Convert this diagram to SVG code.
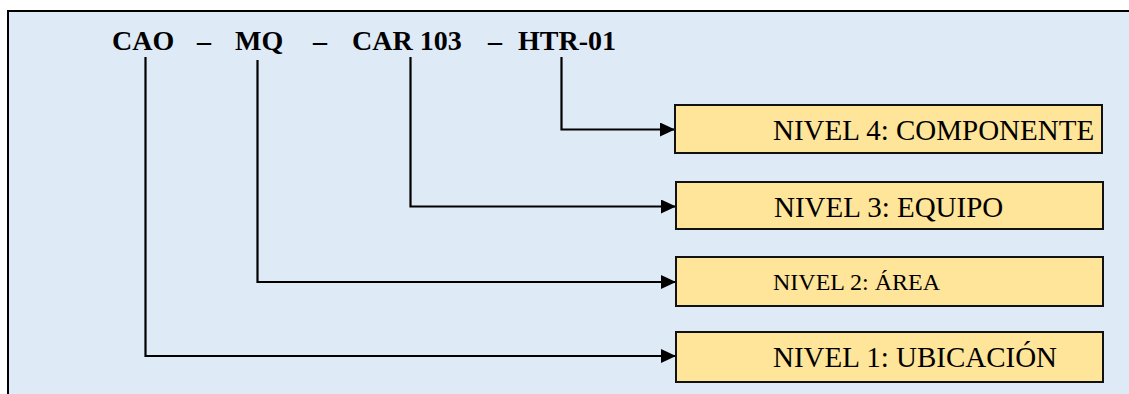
<svg xmlns="http://www.w3.org/2000/svg" width="1129" height="394" viewBox="0 0 1129 394">
  <style>
    .code { font-family: "Liberation Serif", "Times New Roman", serif; font-weight: bold; font-size: 28px; fill: #000; }
    .box { fill: #FFE599; stroke: #111; stroke-width: 2; }
    .lbl { font-family: "Liberation Serif", "Times New Roman", serif; font-size: 29px; fill: #000; }
    .lbl-sm { font-size: 24px; }
    .wire { fill: none; stroke: #000; stroke-width: 2.2; }
  </style>
  <defs>
    <marker id="arrow" markerUnits="userSpaceOnUse" markerWidth="16" markerHeight="14" refX="15" refY="7" orient="auto">
      <path d="M0,0 L15,7 L0,14 Z" fill="#000"/>
    </marker>
  </defs>

  <!-- page background and frame -->
  <rect x="0" y="0" width="1129" height="394" fill="#FFFFFF"/>
  <rect x="8" y="11" width="1130" height="400" fill="#DEEAF6" stroke="#000" stroke-width="2"/>

  <!-- equipment code -->
  <g id="code">
    <text class="code" y="50">
      <tspan x="112">CAO</tspan>
      <tspan x="197">–</tspan>
      <tspan x="235">MQ</tspan>
      <tspan x="313">–</tspan>
      <tspan x="352">CAR 103</tspan>
      <tspan x="488">–</tspan>
      <tspan x="518">HTR-01</tspan>
    </text>
  </g>

  <!-- connectors from code segments to levels -->
  <g id="connectors">
    <path class="wire" d="M561.5,57 V129.5 H675" marker-end="url(#arrow)"/>
    <path class="wire" d="M410.5,57 V206.5 H676" marker-end="url(#arrow)"/>
    <path class="wire" d="M257.5,60 V282 H676" marker-end="url(#arrow)"/>
    <path class="wire" d="M145.5,57 V356 H676" marker-end="url(#arrow)"/>
  </g>

  <g id="nivel4">
    <rect class="box" x="675" y="105" width="427" height="48"/>
    <text class="lbl" x="773" y="140">NIVEL 4: COMPONENTE</text>
  </g>
  <g id="nivel3">
    <rect class="box" x="676" y="182" width="427" height="47"/>
    <text class="lbl" x="774" y="217">NIVEL 3: EQUIPO</text>
  </g>
  <g id="nivel2">
    <rect class="box" x="676" y="257" width="427" height="49"/>
    <text class="lbl lbl-sm" x="773" y="290">NIVEL 2: ÁREA</text>
  </g>
  <g id="nivel1">
    <rect class="box" x="676" y="332" width="427" height="50"/>
    <text class="lbl" x="773" y="367">NIVEL 1: UBICACIÓN</text>
  </g>
</svg>
